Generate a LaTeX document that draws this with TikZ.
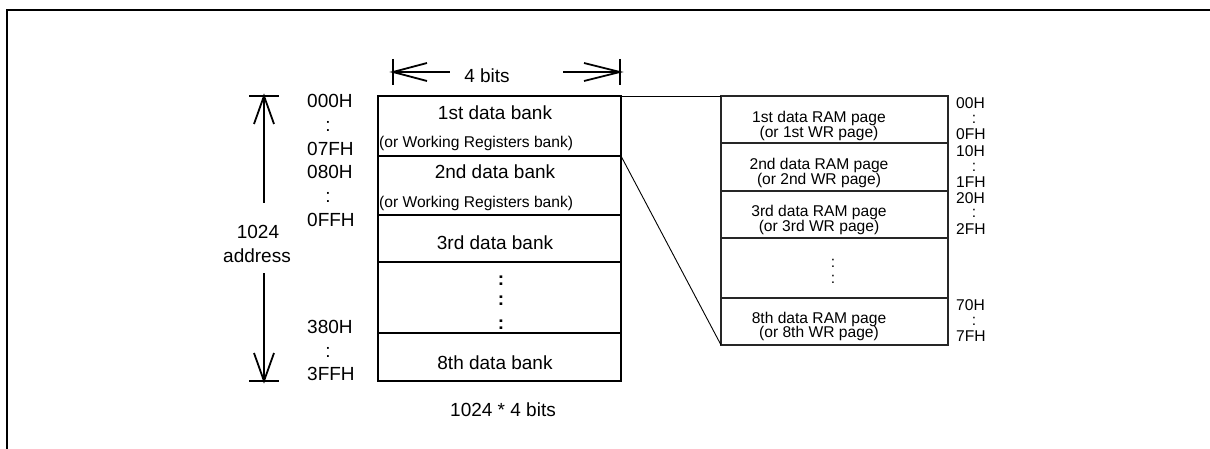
\documentclass[tikz,border=0pt]{standalone}
\usepackage{fontspec}
\setmainfont{Liberation Sans}
\begin{document}
\begin{tikzpicture}[x=1pt,y=-1pt,
  big/.style={font=\fontsize{19}{22}\selectfont, inner sep=0pt},
  small/.style={font=\fontsize{15.6}{17}\selectfont, inner sep=0pt},
  bank/.style={draw, line width=2pt, inner sep=0pt, outer sep=0pt, anchor=north west, minimum width=243pt},
  pagebox/.style={draw, draw=black!85, line width=1.2pt, inner sep=0pt, outer sep=0pt, anchor=north west, minimum width=227pt},
  dimline/.style={line width=1.8pt},
  conn/.style={line width=0.9pt}]
\useasboundingbox (0,0) rectangle (1210,449);
% frame
\draw[line width=2pt] (7,449) -- (7,10) -- (1210,10);

% banks
\node[bank, minimum height=60pt] (b1) at (378,96) {};
\node[bank, minimum height=59pt] (b2) at (378,156) {};
\node[bank, minimum height=47pt] (b3) at (378,215) {};
\node[bank, minimum height=71pt] (b4) at (378,262) {};
\node[bank, minimum height=48pt] (b5) at (378,333) {};

\node[big, anchor=base] (t1) at (495,120) {1st data bank};
\node[small, anchor=base west] (t1b) at (379,148) {(or Working Registers bank)};
\node[big, anchor=base] (t2) at (495,179) {2nd data bank};
\node[small, anchor=base west] (t2b) at (379,208) {(or Working Registers bank)};
\node[big, anchor=base] (t3) at (495,250) {3rd data bank};
\node[big, anchor=base] (d1) at (501,285) {\textbf{:}};
\node[big, anchor=base] (d2) at (501,305) {\textbf{:}};
\node[big, anchor=base] (d3) at (501,329) {\textbf{:}};
\node[big, anchor=base] (t8) at (495,369) {8th data bank};
\node[big, anchor=base] (cap) at (503,416) {1024 * 4 bits};

% 4 bits dimension
\coordinate (hl) at (393,72);
\coordinate (hr) at (620,72);
\draw[dimline] (hl) ++(0,-13) -- ++(0,26);
\draw[dimline] (hr) ++(0,-13) -- ++(0,26);
\draw[dimline] (hl) ++(34,-9) -- (hl) -- ++(34,9);
\draw[dimline] (hr) ++(-36,-9) -- (hr) -- ++(-36,9);
\draw[dimline] (hl) -- ++(57,0);
\draw[dimline] (hr) -- ++(-57,0);
\node[big, anchor=base] (fb) at (487,83) {4 bits};

% 1024 address dimension
\coordinate (vt) at (264,96);
\coordinate (vb) at (264,381);
\draw[dimline] (vt) ++(-15,0) -- ++(30,0);
\draw[dimline] (vb) ++(-15,0) -- ++(30,0);
\draw[dimline] (vt) ++(-10,28) -- (vt) -- ++(10,28);
\draw[dimline] (vb) ++(-10,-28) -- (vb) -- ++(10,-28);
\draw[dimline] (vt) -- ++(0,107);
\draw[dimline] (vb) -- ++(0,-108);
\node[big, anchor=base] (n1024) at (258,238) {1024};
\node[big, anchor=base] (naddr) at (257,262) {address};

% left address labels
\node[big, anchor=base west] (a1) at (307,108) {000H};
\node[big, anchor=base] (a1c) at (328,132) {:};
\node[big, anchor=base west] (a2) at (307,156) {07FH};
\node[big, anchor=base west] (a3) at (307,179) {080H};
\node[big, anchor=base] (a3c) at (328,203) {:};
\node[big, anchor=base west] (a4) at (307,227) {0FFH};
\node[big, anchor=base west] (a5) at (307,333) {380H};
\node[big, anchor=base] (a5c) at (328,357) {:};
\node[big, anchor=base west] (a6) at (307,380) {3FFH};

% pages
\node[pagebox, minimum height=47pt] (p1) at (721,96) {};
\node[pagebox, minimum height=48pt] (p2) at (721,143) {};
\node[pagebox, minimum height=47pt] (p3) at (721,191) {};
\node[pagebox, minimum height=60pt] (p4) at (721,238) {};
\node[pagebox, minimum height=47pt] (p8) at (721,298) {};

\node[small, anchor=base] (q1) at (819,123) {1st data RAM page};
\node[small, anchor=base] (q1b) at (819,138) {(or 1st WR page)};
\node[small, anchor=base] (q2) at (819,170) {2nd data RAM page};
\node[small, anchor=base] (q2b) at (819,185) {(or 2nd WR page)};
\node[small, anchor=base] (q3) at (819,217) {3rd data RAM page};
\node[small, anchor=base] (q3b) at (819,232) {(or 3rd WR page)};
\node[small, anchor=base] (qd1) at (833,267) {:};
\node[small, anchor=base] (qd2) at (833,283) {:};
\node[small, anchor=base] (q8) at (819,323) {8th data RAM page};
\node[small, anchor=base] (q8b) at (819,337) {(or 8th WR page)};

% right address labels
\node[small, anchor=base west] (r1) at (956,109) {00H};
\node[small, anchor=base] (r1c) at (974,124) {:};
\node[small, anchor=base west] (r2) at (956,140) {0FH};
\node[small, anchor=base west] (r3) at (956,157) {10H};
\node[small, anchor=base] (r3c) at (974,172) {:};
\node[small, anchor=base west] (r4) at (956,188) {1FH};
\node[small, anchor=base west] (r5) at (956,204) {20H};
\node[small, anchor=base] (r5c) at (974,218) {:};
\node[small, anchor=base west] (r6) at (956,235) {2FH};
\node[small, anchor=base west] (r7) at (956,310) {70H};
\node[small, anchor=base] (r7c) at (974,325) {:};
\node[small, anchor=base west] (r8) at (956,341) {7FH};

% connectors
\draw[conn] (b1.north east) -- (p1.north west);
\draw[conn] (b1.south east) -- (p8.south west);
\end{tikzpicture}
\end{document}
